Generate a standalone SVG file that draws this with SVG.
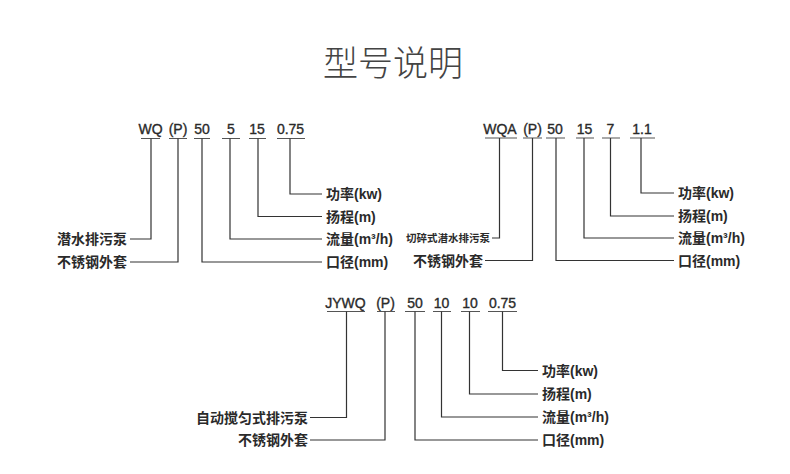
<svg xmlns="http://www.w3.org/2000/svg" width="790" height="474" viewBox="0 0 790 474">
<style>
.title{font-family:"Noto Sans CJK SC","Noto Sans",sans-serif;font-size:35px;font-weight:300;fill:#444;text-anchor:middle}
.code{font-family:"Liberation Sans","Noto Sans CJK SC",sans-serif;font-size:14px;fill:#2a2a2a;stroke:#2a2a2a;stroke-width:0.35;text-anchor:middle}
.lbl{font-family:"Liberation Sans","Noto Sans CJK SC",sans-serif;font-size:14px;font-weight:bold;fill:#2a2a2a}
.lr{text-anchor:end}
.sm{font-size:10.5px}
.ln{fill:none;stroke:#333;stroke-width:1.2}
.ul{fill:none;stroke:#555;stroke-width:1.2}
</style>
<rect width="790" height="474" fill="#fff"/>
<g id="title"><text class="title" x="393" y="76">型号说明</text></g>

<g id="block1">
  <g id="b1-codes">
    <text class="code" x="150.5" y="134">WQ</text>
    <text class="code" x="178" y="134">(P)</text>
    <text class="code" x="202" y="134">50</text>
    <text class="code" x="231" y="134">5</text>
    <text class="code" x="257" y="134">15</text>
    <text class="code" x="290.5" y="134">0.75</text>
  </g>
  <g id="b1-labels">
    <text class="lbl lr" x="127" y="244">潜水排污泵</text>
    <text class="lbl lr" x="127" y="267">不锈钢外套</text>
    <text class="lbl" x="326" y="199">功率(kw)</text>
    <text class="lbl" x="326" y="221.5">扬程(m)</text>
    <text class="lbl" x="326" y="244">流量(m³/h)</text>
    <text class="lbl" x="326" y="267">口径(mm)</text>
  </g>
</g>

<g id="block2">
  <g id="b2-codes">
    <text class="code" x="500" y="134">WQA</text>
    <text class="code" x="532.5" y="134">(P)</text>
    <text class="code" x="555" y="134">50</text>
    <text class="code" x="584.5" y="134">15</text>
    <text class="code" x="610.5" y="134">7</text>
    <text class="code" x="642" y="134">1.1</text>
  </g>
  <g id="b2-labels">
    <text class="lbl lr sm" x="490" y="242">切碎式潜水排污泵</text>
    <text class="lbl lr" x="483" y="265.5">不锈钢外套</text>
    <text class="lbl" x="678" y="198">功率(kw)</text>
    <text class="lbl" x="678" y="221">扬程(m)</text>
    <text class="lbl" x="678" y="243">流量(m³/h)</text>
    <text class="lbl" x="678" y="265.5">口径(mm)</text>
  </g>
</g>

<g id="block3">
  <g id="b3-codes">
    <text class="code" x="345.5" y="307.5">JYWQ</text>
    <text class="code" x="385.5" y="307.5">(P)</text>
    <text class="code" x="415" y="307.5">50</text>
    <text class="code" x="441.5" y="307.5">10</text>
    <text class="code" x="470" y="307.5">10</text>
    <text class="code" x="502.5" y="307.5">0.75</text>
  </g>
  <g id="b3-labels">
    <text class="lbl lr" x="308" y="422.5">自动搅匀式排污泵</text>
    <text class="lbl lr" x="308" y="445">不锈钢外套</text>
    <text class="lbl" x="542" y="375.5">功率(kw)</text>
    <text class="lbl" x="542" y="399">扬程(m)</text>
    <text class="lbl" x="542" y="422">流量(m³/h)</text>
    <text class="lbl" x="542" y="445">口径(mm)</text>
  </g>
</g>

<g id="connectors">
  <path class="ul" d="M141 138.5H160M169 138.5H187M194 138.5H210M222 138.5H240M249 138.5H266M277 138.5H305"/>
  <path class="ln" d="M151 138.5V239H130"/>
  <path class="ln" d="M178 138.5V262H130"/>
  <path class="ln" d="M202 138.5V262H322"/>
  <path class="ln" d="M230 138.5V239H322"/>
  <path class="ln" d="M258 138.5V216.5H322"/>
  <path class="ln" d="M290 138.5V194H322"/>

  <path class="ul" d="M485 138H517M523 138H542M546 138H565M576 138H594M602 138H620M630 138H655"/>
  <path class="ln" d="M499.5 138V238H492"/>
  <path class="ln" d="M532.5 138V260.5H485"/>
  <path class="ln" d="M556 138V260.5H674"/>
  <path class="ln" d="M584 138V238H674"/>
  <path class="ln" d="M610.5 138V216H674"/>
  <path class="ln" d="M641 138V193H674"/>

  <path class="ul" d="M327 311.5H365M377 311.5H395M405 311.5H425M433 311.5H451M461 311.5H480M488 311.5H517"/>
  <path class="ln" d="M346.5 311.5V417.5H310"/>
  <path class="ln" d="M385 311.5V440H310"/>
  <path class="ln" d="M415 311.5V440H538"/>
  <path class="ln" d="M441.5 311.5V417H538"/>
  <path class="ln" d="M469.5 311.5V394H538"/>
  <path class="ln" d="M502.5 311.5V370.5H538"/>
</g>
</svg>
